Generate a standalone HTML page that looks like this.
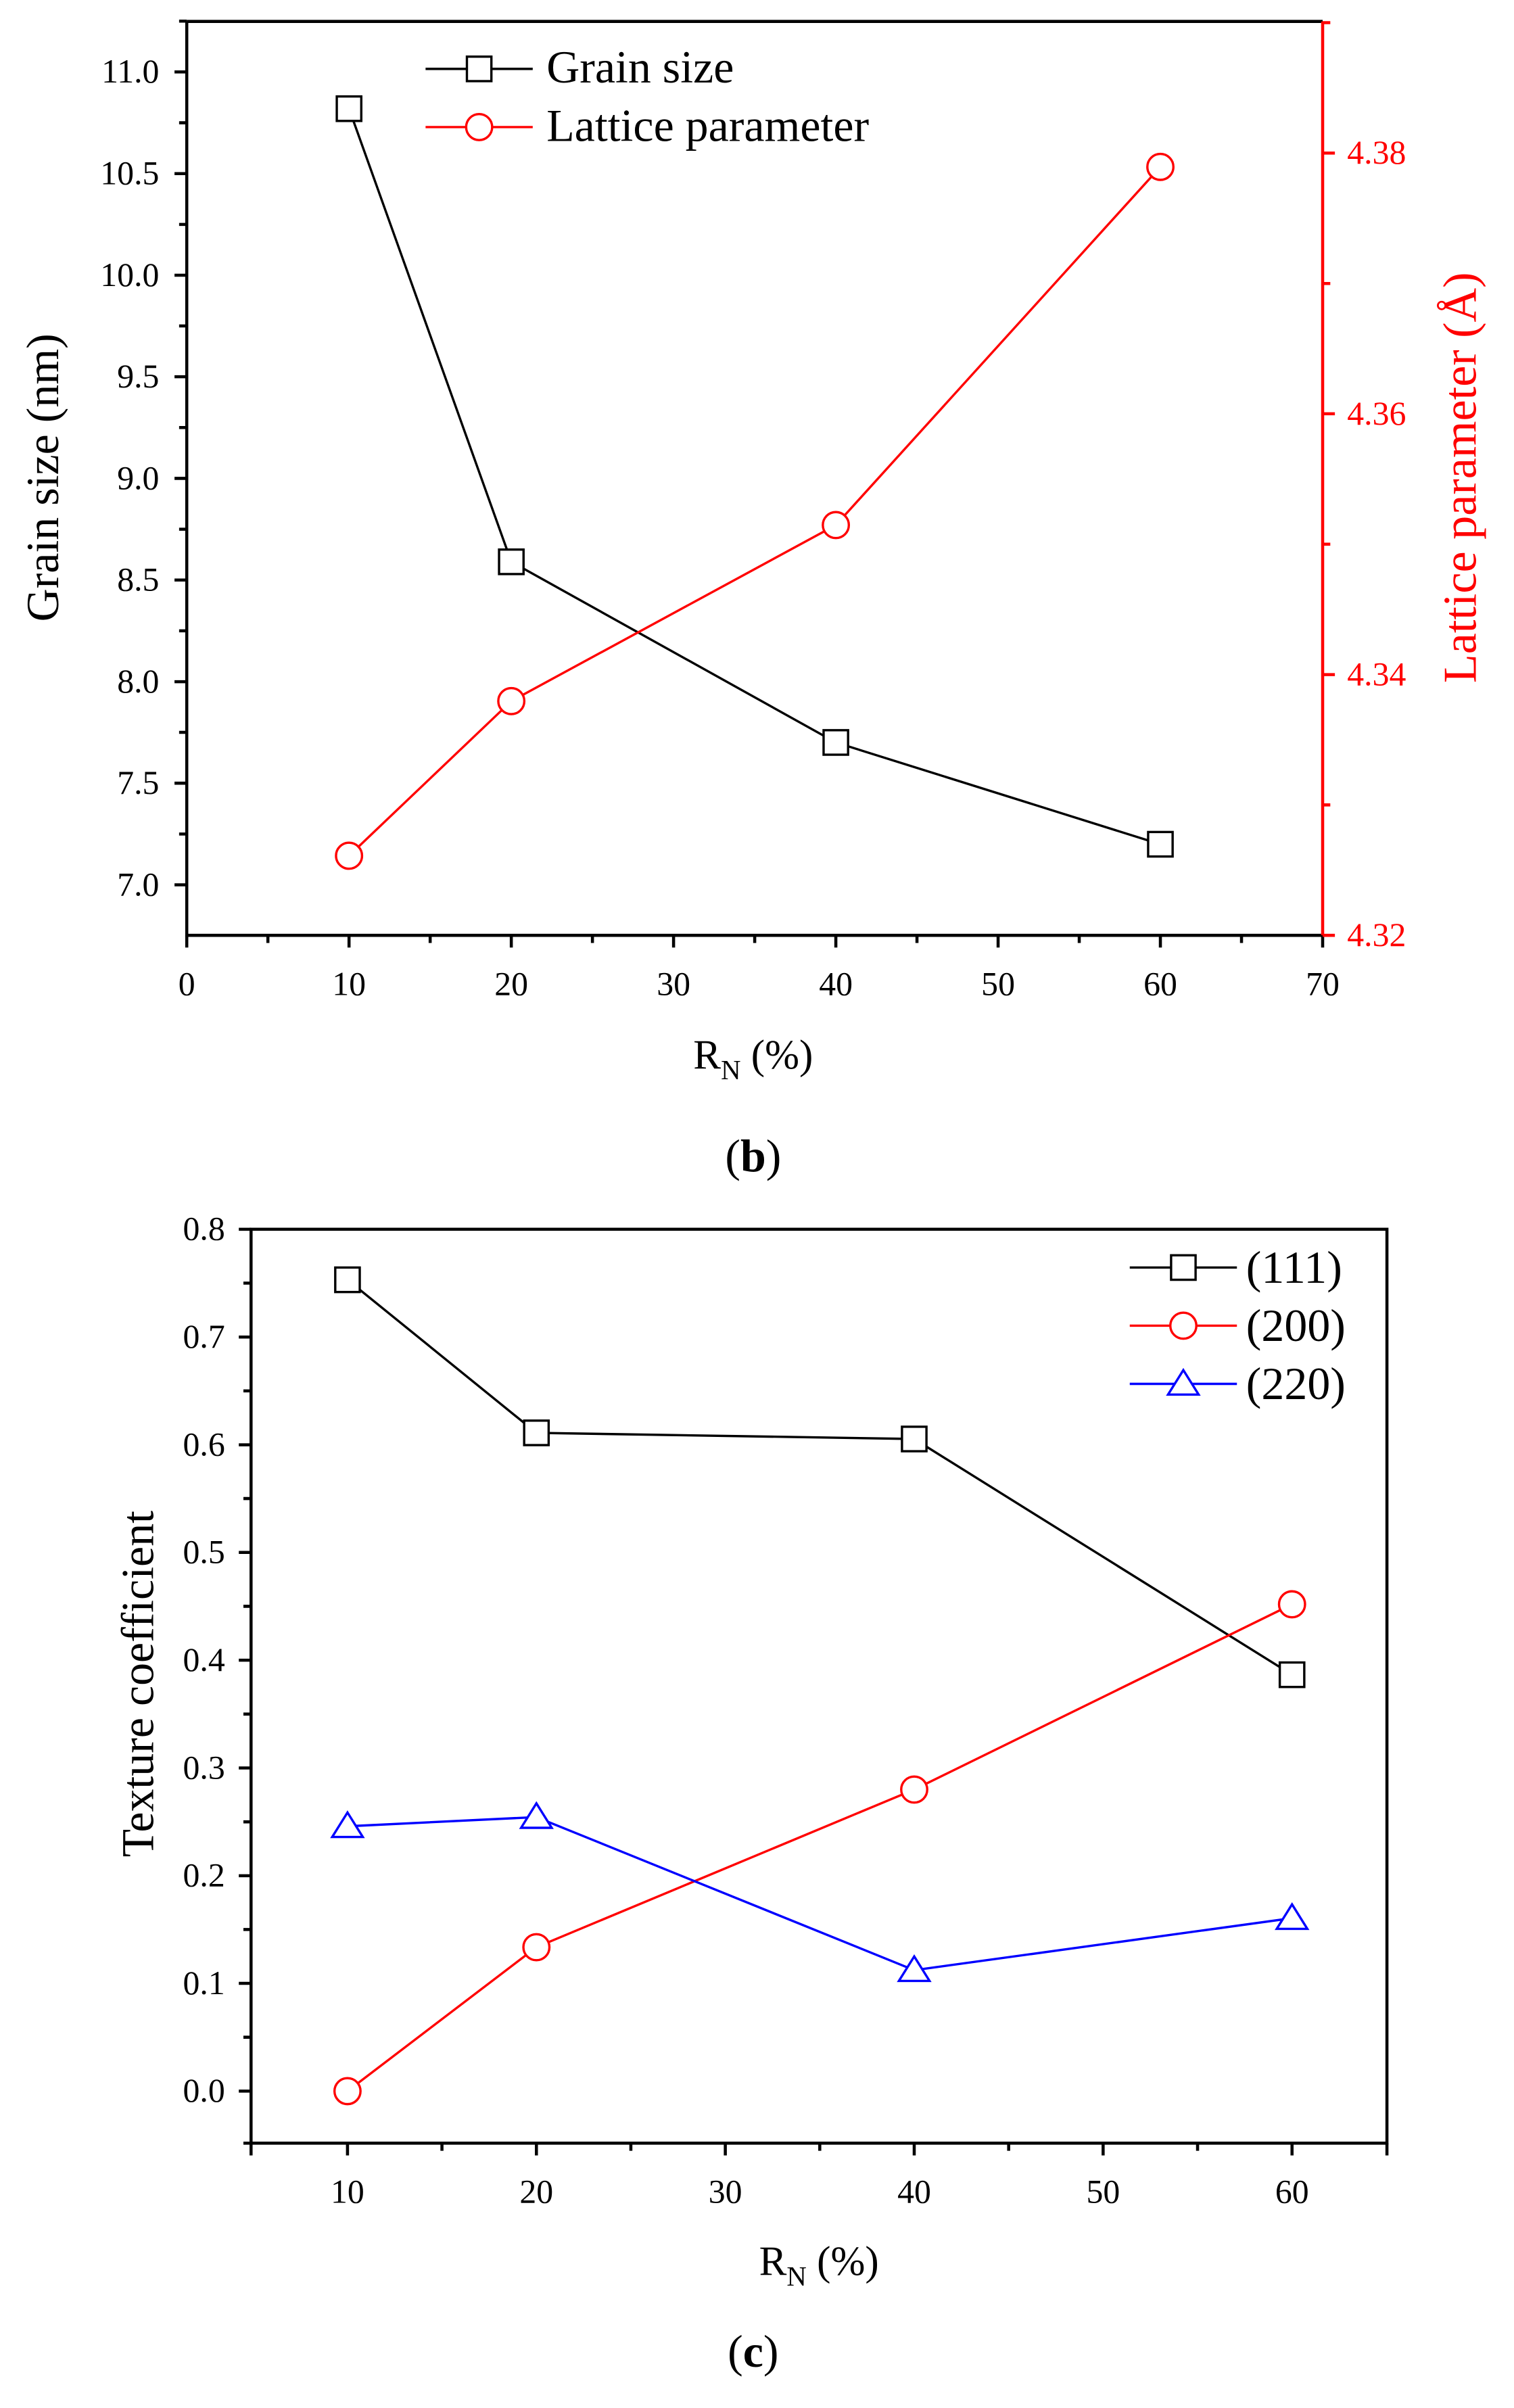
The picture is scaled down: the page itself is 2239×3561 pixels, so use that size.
<!DOCTYPE html>
<html><head><meta charset="utf-8"><style>html,body{margin:0;padding:0;background:#fff}svg{display:block}text{font-family:"Liberation Serif",serif}</style></head><body>
<svg width="2239" height="3561" viewBox="0 0 989 1573" preserveAspectRatio="none" xmlns="http://www.w3.org/2000/svg">
<rect width="989" height="1573" fill="#fff"/>
<!-- Chart b -->
<g fill="none" stroke-width="2">
<path d="M122,14H864M122,14V611H864" stroke="#000"/>
<path d="M864,14V611" stroke="#f00"/>
<path stroke="#000" d="M122,611v8M228,611v8M334,611v8M440,611v8M546,611v8M652,611v8M758,611v8M864,611v8M175,611v5M281,611v5M387,611v5M493,611v5M599,611v5M705,611v5M811,611v5
M122,578h-8M122,511.6h-8M122,445.3h-8M122,378.9h-8M122,312.5h-8M122,246.1h-8M122,179.8h-8M122,113.4h-8M122,47h-8
M122,544.8h-5M122,478.4h-5M122,412.1h-5M122,345.7h-5M122,279.3h-5M122,212.9h-5M122,146.6h-5M122,80.2h-5M122,13.8h-5"/>
<path stroke="#f00" d="M864,611h8M864,440.7h8M864,270.3h8M864,100h8M864,525.8h5M864,355.5h5M864,185.2h5M864,14.8h5"/>
</g>
<g font-size="22" text-anchor="end">
<text x="104" y="585">7.0</text><text x="104" y="518.6">7.5</text><text x="104" y="452.3">8.0</text><text x="104" y="385.9">8.5</text><text x="104" y="319.5">9.0</text><text x="104" y="253.1">9.5</text><text x="104" y="186.8">10.0</text><text x="104" y="120.4">10.5</text><text x="104" y="54">11.0</text>
</g>
<g font-size="22" text-anchor="middle">
<text x="122" y="650">0</text><text x="228" y="650">10</text><text x="334" y="650">20</text><text x="440" y="650">30</text><text x="546" y="650">40</text><text x="652" y="650">50</text><text x="758" y="650">60</text><text x="864" y="650">70</text>
</g>
<g font-size="22" fill="#f00">
<text x="880" y="618">4.32</text><text x="880" y="447.7">4.34</text><text x="880" y="277.3">4.36</text><text x="880" y="107">4.38</text>
</g>
<text transform="translate(38,312) rotate(-90)" font-size="30" text-anchor="middle">Grain size (nm)</text>
<text transform="translate(964,312) rotate(-90)" font-size="31" text-anchor="middle" fill="#f00">Lattice parameter (Å)</text>
<text x="492" y="698" font-size="27" text-anchor="middle">R<tspan font-size="18" dy="7">N</tspan><tspan dy="-7"> (%)</tspan></text>
<text x="492" y="765" font-size="30" text-anchor="middle">(<tspan font-weight="bold">b</tspan>)</text>
<g fill="none" stroke-width="1.5">
<polyline stroke="#000" points="228,71 334,367 546,485 758,551.5"/>
<polyline stroke="#f00" points="228,559 334,458 546,343 758,109"/>
<g stroke="#000" fill="#fff"><rect x="220" y="63" width="16" height="16"/><rect x="326" y="359" width="16" height="16"/><rect x="538" y="477" width="16" height="16"/><rect x="750" y="543.5" width="16" height="16"/></g>
<g stroke="#f00" fill="#fff"><circle cx="228" cy="559" r="8.5"/><circle cx="334" cy="458" r="8.5"/><circle cx="546" cy="343" r="8.5"/><circle cx="758" cy="109" r="8.5"/></g>
<path stroke="#000" d="M278,45H348"/><rect x="305" y="37" width="16" height="16" stroke="#000" fill="#fff"/>
<path stroke="#f00" d="M278,83H348"/><circle cx="313" cy="83" r="8.5" stroke="#f00" fill="#fff"/>
</g>
<text x="357" y="54" font-size="30">Grain size</text>
<text x="357" y="92" font-size="30">Lattice parameter</text>

<!-- Chart c -->
<g fill="none" stroke-width="2" stroke="#000">
<rect x="164" y="803" width="742" height="597"/>
<path d="M227,1400v8M350.4,1400v8M473.8,1400v8M597.2,1400v8M720.6,1400v8M844,1400v8M164,1400v8M906,1400v8M288.7,1400v5M412.1,1400v5M535.5,1400v5M658.9,1400v5M782.3,1400v5
M164,1366h-8M164,1295.6h-8M164,1225.3h-8M164,1154.9h-8M164,1084.5h-8M164,1014.1h-8M164,943.8h-8M164,873.4h-8M164,803h-8
M164,1330.8h-5M164,1260.4h-5M164,1190.1h-5M164,1119.7h-5M164,1049.3h-5M164,978.9h-5M164,908.6h-5M164,838.2h-5M164,1400h-5"/>
</g>
<g font-size="22" text-anchor="end">
<text x="147" y="1373">0.0</text><text x="147" y="1302.6">0.1</text><text x="147" y="1232.3">0.2</text><text x="147" y="1161.9">0.3</text><text x="147" y="1091.5">0.4</text><text x="147" y="1021.1">0.5</text><text x="147" y="950.8">0.6</text><text x="147" y="880.4">0.7</text><text x="147" y="810">0.8</text>
</g>
<g font-size="22" text-anchor="middle">
<text x="227" y="1439">10</text><text x="350.4" y="1439">20</text><text x="473.8" y="1439">30</text><text x="597.2" y="1439">40</text><text x="720.6" y="1439">50</text><text x="844" y="1439">60</text>
</g>
<text transform="translate(100,1100) rotate(-90)" font-size="30" text-anchor="middle">Texture coefficient</text>
<text x="535" y="1486" font-size="27" text-anchor="middle">R<tspan font-size="18" dy="7">N</tspan><tspan dy="-7"> (%)</tspan></text>
<text x="492" y="1546" font-size="30" text-anchor="middle">(<tspan font-weight="bold">c</tspan>)</text>
<g fill="none" stroke-width="1.5">
<polyline stroke="#000" points="227,836 350.4,936 597.2,940 844,1094"/>
<polyline stroke="#f00" points="227,1366 350.4,1272 597.2,1169 844,1048"/>
<polyline stroke="#00f" points="227,1193 350.4,1187 597.2,1287 844,1253"/>
<g stroke="#000" fill="#fff"><rect x="219" y="828" width="16" height="16"/><rect x="342.4" y="928" width="16" height="16"/><rect x="589.2" y="932" width="16" height="16"/><rect x="836" y="1086" width="16" height="16"/></g>
<g stroke="#f00" fill="#fff"><circle cx="227" cy="1366" r="8.5"/><circle cx="350.4" cy="1272" r="8.5"/><circle cx="597.2" cy="1169" r="8.5"/><circle cx="844" cy="1048" r="8.5"/></g>
<g stroke="#00f" fill="#fff"><path d="M227,1184l10,16h-20z"/><path d="M350.4,1178l10,16h-20z"/><path d="M597.2,1278l10,16h-20z"/><path d="M844,1244l10,16h-20z"/></g>
<path stroke="#000" d="M738,828H808"/><rect x="765" y="820" width="16" height="16" stroke="#000" fill="#fff"/>
<path stroke="#f00" d="M738,866H808"/><circle cx="773" cy="866" r="8.5" stroke="#f00" fill="#fff"/>
<path stroke="#00f" d="M738,904H808"/><path d="M773,895l10,16h-20z" stroke="#00f" fill="#fff"/>
</g>
<g font-size="30"><text x="814" y="838">(111)</text><text x="814" y="876">(200)</text><text x="814" y="914">(220)</text></g>
</svg>
</body></html>
